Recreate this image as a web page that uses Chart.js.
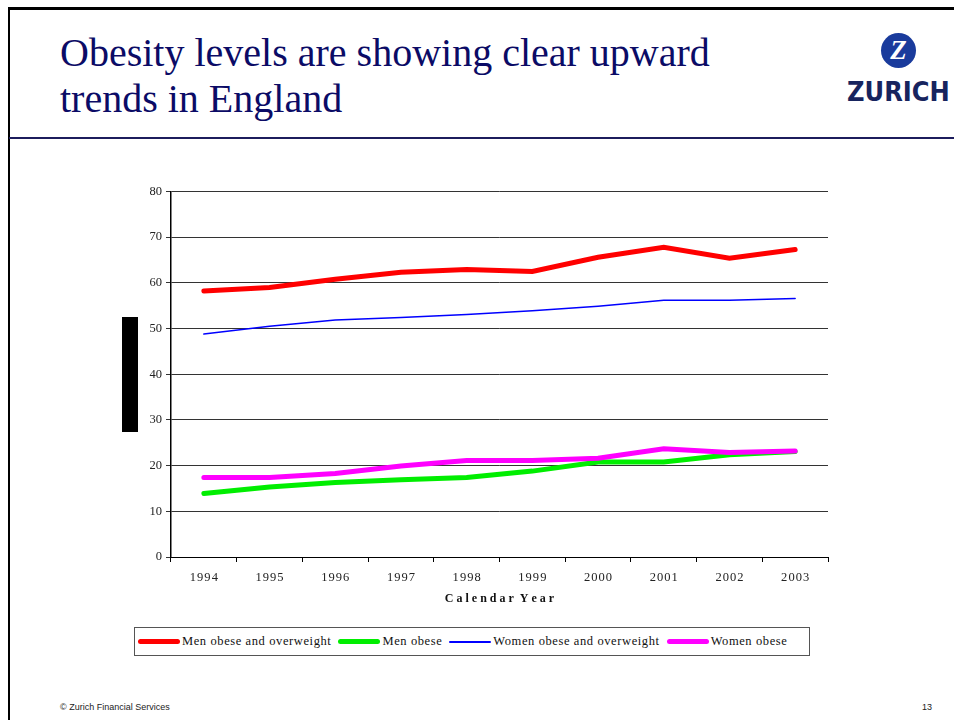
<!DOCTYPE html>
<html>
<head>
<meta charset="utf-8">
<script src="https://cdn.jsdelivr.net/npm/chart.js@4"></script>
<style>
  body { margin: 0; background: #fff; width: 954px; height: 720px; overflow: hidden; position: relative; font-family: "Liberation Serif", serif; }
  .frame { position: absolute; left: 8px; top: 7px; right: -4px; bottom: -4px; border-top: 3px solid #000; border-left: 2px solid #000; }
  .rule { position: absolute; left: 9px; right: 0; top: 137px; height: 2px; background: #1c1c5c; }
  h1 { position: absolute; left: 60px; top: 30px; margin: 0; font-weight: normal; font-size: 40px; line-height: 46px; color: #0b0b66; font-family: "Liberation Serif", serif; }
  .logo-circle { position: absolute; left: 881px; top: 33px; width: 35px; height: 35px; border-radius: 50%; background: #1a3b9c; color: #fff; font: bold 27px "Liberation Serif", serif; text-align: center; line-height: 35px; font-style: italic; }
  .logo-text { position: absolute; left: 847px; top: 77px; font: bold 26px "DejaVu Sans", sans-serif; color: #17245e; transform: scaleX(0.93); transform-origin: left; }
  .blackbar { position: absolute; left: 122px; top: 317px; width: 16px; height: 115px; background: #000; }
  #wrap { position: absolute; left: 100px; top: 180px; width: 740px; height: 430px; }
  .legend { position: absolute; left: 134px; top: 627px; width: 674px; height: 27px; border: 1px solid #555; display: flex; align-items: center; font-size: 12.5px; letter-spacing: 0.6px; color: #111; }
  .legend span.item { display: flex; align-items: center; margin-left: 3px; margin-right: 4px; white-space: nowrap; }
  .legend i { display: inline-block; width: 42px; border-radius: 3px; margin-right: 2px; }
  .foot { position: absolute; top: 702px; font: 9px "Liberation Sans", Arial, sans-serif; color: #222; }
</style>
</head>
<body>
<div class="frame"></div>
<div class="rule"></div>
<h1>Obesity levels are showing clear upward<br>trends in England</h1>
<div class="logo-circle">Z</div>
<div class="logo-text">ZURICH</div>
<div class="blackbar"></div>
<div id="wrap"><canvas id="lineChart"></canvas></div>
<div class="legend" id="legend"></div>
<div class="foot" style="left:60px">© Zurich Financial Services</div>
<div class="foot" style="left:922px">13</div>
<script>
const years = ["1994", "1995", "1996", "1997", "1998", "1999", "2000", "2001", "2002", "2003"];
const menObeseOverweight = [58.2, 59.0, 60.8, 62.3, 62.9, 62.5, 65.6, 67.8, 65.4, 67.3];
const menObese = [13.9, 15.3, 16.3, 16.9, 17.4, 18.8, 20.8, 20.8, 22.4, 23.1];
const womenObeseOverweight = [48.8, 50.5, 51.9, 52.4, 53.1, 53.9, 54.9, 56.2, 56.2, 56.6];
const womenObese = [17.4, 17.4, 18.3, 19.9, 21.1, 21.1, 21.6, 23.7, 22.9, 23.2];
const seriesNames = ["Men obese and overweight", "Men obese", "Women obese and overweight", "Women obese"];
const seriesColors = ["#ff0000", "#00ee00", "#0000ff", "#ff00ff"];
const seriesWidths = [5, 5, 1.5, 5];
const yTicks = [0, 10, 20, 30, 40, 50, 60, 70, 80];

const allValues = [menObeseOverweight, menObese, womenObeseOverweight, womenObese];
const drawOrder = [1, 4, 2, 3];

const data = {
  labels: years,
  datasets: allValues.map((vals, i) => ({
    label: seriesNames[i],
    data: vals,
    borderColor: seriesColors[i],
    backgroundColor: seriesColors[i],
    borderWidth: seriesWidths[i],
    pointRadius: 0,
    tension: 0,
    borderCapStyle: "round",
    order: drawOrder[i]
  }))
};

const tickFont = { family: "Liberation Serif", size: 12.5 };

const config = {
  type: "line",
  data: data,
  options: {
    responsive: true,
    maintainAspectRatio: false,
    animation: false,
    layout: { padding: { top: 10, right: 12, left: 0, bottom: 0 } },
    plugins: { legend: { display: false }, tooltip: { enabled: false } },
    scales: {
      x: {
        offset: true,
        grid: { drawOnChartArea: false, drawTicks: true, tickLength: 5, color: "#000", offset: true },
        border: { color: "#000", width: 1 },
        ticks: {
          font: tickFont, color: "#222", padding: 8, maxRotation: 0,
          callback: function (value) { return this.getLabelForValue(value).split("").join("\u200A"); }
        },
        title: {
          display: true,
          text: "C a l e n d a r  Y e a r",
          font: { family: "Liberation Serif", size: 12, weight: "bold" },
          color: "#111",
          padding: { top: 4 }
        },
        afterFit: (scale) => { scale.height = 53; }
      },
      y: {
        min: 0,
        max: 80,
        afterBuildTicks: (scale) => { scale.ticks = yTicks.map(v => ({ value: v })); },
        grid: { color: "#333", lineWidth: 1, tickLength: 5 },
        border: { color: "#000", width: 1.5 },
        ticks: { font: tickFont, color: "#222", padding: 4 },
        afterFit: (scale) => { scale.width = 71; }
      }
    }
  }
};

const chart = new Chart(document.getElementById("lineChart"), config);

// legend built from the same series arrays
const legend = document.getElementById("legend");
seriesNames.forEach((name, i) => {
  const item = document.createElement("span");
  item.className = "item";
  const sw = document.createElement("i");
  sw.style.height = Math.max(2, seriesWidths[i]) + "px";
  sw.style.background = seriesColors[i];
  item.appendChild(sw);
  item.appendChild(document.createTextNode(name));
  legend.appendChild(item);
});
</script>
</body>
</html>
